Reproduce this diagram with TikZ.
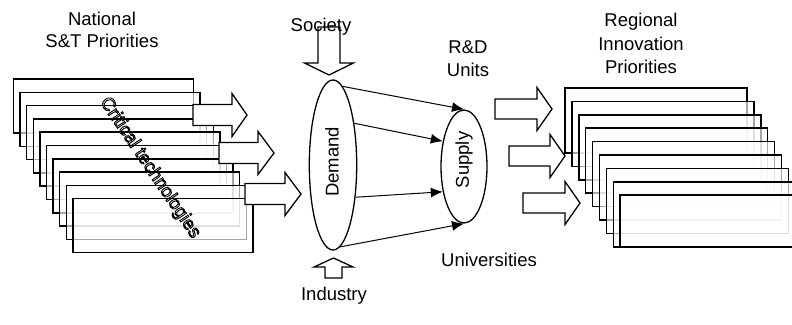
\documentclass[tikz,border=0pt]{standalone}
\usepackage{fontspec}
\setmainfont{Liberation Sans}
\usetikzlibrary{arrows.meta,shapes.geometric}

% horizontal block arrow: tail x, head base x, tip x, centre y, half shaft, half head
\newcommand\rightblock[6]{%
  \draw[blockarrow] (#1,#4-#5) -- (#2,#4-#5) -- (#2,#4-#6) -- (#3,#4)
    -- (#2,#4+#6) -- (#2,#4+#5) -- (#1,#4+#5) -- cycle;}
% vertical block arrow: centre x, tail y, head base y, tip y, half shaft, half head
\newcommand\vertblock[6]{%
  \draw[blockarrow] (#1-#5,#2) -- (#1-#5,#3) -- (#1-#6,#3) -- (#1,#4)
    -- (#1+#6,#3) -- (#1+#5,#3) -- (#1+#5,#2) -- cycle;}
% glyphs drawn as outlines only (PDF text render mode 1)
\newcommand\hollowtext[1]{%
  \special{pdf:literal direct 1 Tr 0.9 w}#1\special{pdf:literal direct 0 Tr 1 w}}

\begin{document}
\begin{tikzpicture}[x=1pt,y=-1pt,
  card/.style={draw=black, line width=1.5pt, fill=white, fill opacity=0.65},
  blockarrow/.style={draw=black, line width=1.3pt, fill=white, line join=miter},
  lbl/.style={font=\fontsize{18.5}{22}\selectfont, inner sep=0pt, anchor=base},
  pool/.style={ellipse, draw=black, line width=1.3pt, inner sep=0pt},
  flow/.style={-{Latex[length=12pt,width=10pt]}, line width=1pt},
]
\useasboundingbox (0,0) rectangle (792,324);
\fill[white] (0,0) rectangle (792,324);

% national priority sheets
\foreach \k in {0,...,9} {
  \draw[card] ({13.5+6.6*\k},{79+13.3*\k}) rectangle ++(180,54);
}

% regional priority sheets
\foreach \k in {0,...,8} {
  \pgfmathsetmacro\sheeth{\k==8 ? 52 : 65}
  \draw[card] ({565+6.9*\k},{88+13.4*\k}) rectangle ++(182,\sheeth);
}

% arrows leaving the national sheets
\rightblock{193}{232}{247}{115}{10.5}{21.5}
\rightblock{219}{258}{274}{153}{10.5}{21.5}
\rightblock{245}{285}{301}{194}{10.5}{21.5}

% arrows towards the regional sheets
\rightblock{495}{537}{552}{109}{10}{21.5}
\rightblock{509}{550}{565}{156}{10}{21.5}
\rightblock{523}{565}{580}{203}{10}{21.5}

% society and industry inputs
\vertblock{329}{27}{63}{75}{11}{24.5}
\vertblock{333.5}{278}{267}{258}{8.5}{19.5}

% demand and supply
\node[pool, minimum width=47.4pt, minimum height=170pt] (demand) at (333,165) {};
\node[pool, minimum width=46pt, minimum height=113pt] (supply) at (464,166.5) {};
\node[lbl, anchor=center, rotate=90] (demandtxt) at (332,162) {Demand};
\node[lbl, anchor=center, rotate=90] (supplytxt) at (464,160) {Supply};

\draw[flow] (demand.83) -- (supply.north);
\draw[flow] (demand.63) -- (supply.130);
\draw[flow] (demand.-55) -- (supply.230);
\draw[flow] (demand.275) -- (supply.south);

% labels
\node[lbl] (national) at (102,25) {National};
\node[lbl] (stpri) at (102,47) {S\&T Priorities};
\node[lbl] (society) at (321,31) {Society};
\node[lbl] (rd) at (468,53) {R\&D};
\node[lbl] (units) at (468,76) {Units};
\node[lbl] (univ) at (489,266.5) {Universities};
\node[lbl] (industry) at (334,300) {Industry};
\node[lbl] (regional) at (641,26) {Regional};
\node[lbl] (innov) at (641,50) {Innovation};
\node[lbl] (rpri) at (641,73) {Priorities};

% outlined caption across the national sheets
\node[font=\fontsize{18.5}{22}\selectfont, inner sep=0pt, rotate=-56] (crit) at (150,168)
  {\hollowtext{Critical technologies}};
\end{tikzpicture}
\end{document}
